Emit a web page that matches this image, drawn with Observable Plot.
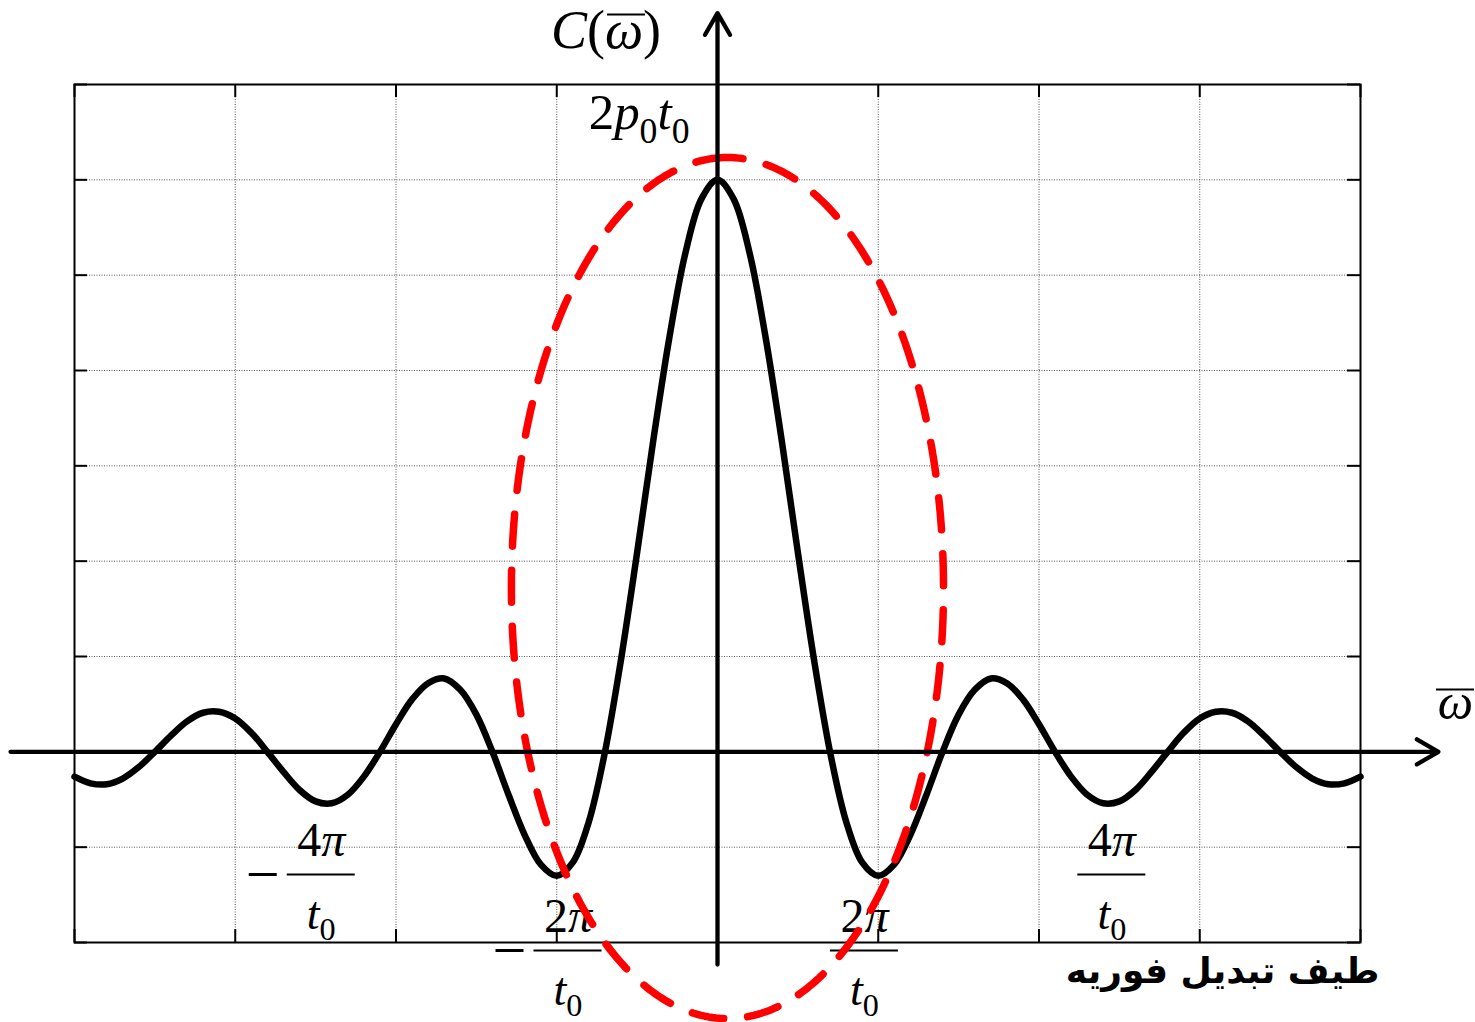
<!DOCTYPE html>
<html><head><meta charset="utf-8">
<script src="https://cdn.jsdelivr.net/npm/d3@7"></script>
<script src="https://cdn.jsdelivr.net/npm/@observablehq/plot@0.6"></script>
<style>html,body{margin:0;padding:0;background:#fff;overflow:hidden}</style>
</head><body><div id="chart"></div>
<script>
// ---- data ----
const omega = [-4.0,-3.9,-3.8,-3.7,-3.6,-3.5,-3.4,-3.3,-3.2,-3.1,-3.0,-2.9,-2.8,-2.7,-2.6,-2.5,-2.4,-2.3,-2.2,-2.1,
  -2.0,-1.9,-1.8,-1.7,-1.6,-1.5,-1.4,-1.3,-1.2,-1.1,-1.0,-0.9,-0.8,-0.7,-0.6,-0.5,-0.4,-0.3,-0.2,-0.1,
  0.0,0.1,0.2,0.3,0.4,0.5,0.6,0.7,0.8,0.9,1.0,1.1,1.2,1.3,1.4,1.5,1.6,1.7,1.8,1.9,
  2.0,2.1,2.2,2.3,2.4,2.5,2.6,2.7,2.8,2.9,3.0,3.1,3.2,3.3,3.4,3.5,3.6,3.7,3.8,3.9,4.0];
const C = [-0.26,-0.33,-0.34,-0.28,-0.16,0.00,0.17,0.32,0.41,0.42,0.35,0.20,0.00,-0.21,-0.40,-0.52,-0.54,-0.45,-0.26,0.00,
  0.29,0.55,0.72,0.77,0.65,0.39,0.00,-0.45,-0.87,-1.18,-1.30,-1.16,-0.73,0.00,0.97,2.09,3.26,4.34,5.23,5.80,
  6.00,5.80,5.23,4.34,3.26,2.09,0.97,0.00,-0.73,-1.16,-1.30,-1.18,-0.87,-0.45,0.00,0.39,0.65,0.77,0.72,0.55,
  0.29,0.00,-0.26,-0.45,-0.54,-0.52,-0.40,-0.21,0.00,0.20,0.35,0.42,0.41,0.32,0.17,0.00,-0.16,-0.28,-0.34,-0.33,-0.26];
const xGrid = [-4,-3,-2,-1,0,1,2,3,4];
const yGrid = [-2,-1,0,1,2,3,4,5,6,7];
const yAxisLabel = "{C}({ω})";
const peakLabel = "2{p}_0{t}_0";
const xAxisLabel = "{ω}";
const fracNum = ["4{π}", "2{π}", "2{π}", "4{π}"];
const fracDen = ["{t}_0", "{t}_0", "{t}_0", "{t}_0"];
const fracSign = [-1, -1, 1, 1];
const fracAt = [-2.465, -0.93, 0.914, 2.453];
const caption = "طیف تبدیل فوریه";

// ---- layout / styling ----
const serif = "Liberation Serif, Times New Roman, serif";
const curveData = omega.map((w, i) => ({w, c: C[i]}));
const fracData = fracNum.map((n, i) => ({
  num: n, den: fracDen[i], neg: fracSign[i] < 0, at: fracAt[i],
  bar: Math.abs(fracAt[i]) > 2 ? -1.287 : -2.084
}));
const ell = {cx: 0.062, cy: 1.718, rx: 1.344, ry: 4.516};
const ellipsePts = d3.range(0, 361, 1).map(a => {
  const t = (90 + a) * Math.PI / 180;
  return {x: ell.cx + ell.rx * Math.cos(t), y: ell.cy + ell.ry * Math.sin(t)};
});
const axesData = [
  {x1: -4.398, y1: 0, x2: 4.485, y2: 0},
  {x1: 0, y1: -2.231, x2: 0, y2: 7.748}
];
const overlines = [{x: -0.566, y: 7.734}, {x: 4.591, y: 0.654}];

const gridStyle = {stroke: "#555", strokeOpacity: 1, strokeWidth: 1, strokeDasharray: "1,1.5"};
const tickStyle = {stroke: "#000", strokeWidth: 2};
const richText = {fontFamily: serif, textAnchor: "middle", lineAnchor: "bottom", ariaLabel: () => "rich"};

const plot = Plot.plot({
  width: 1475, height: 1022,
  marginTop: 84, marginRight: 115, marginBottom: 80, marginLeft: 74,
  x: {domain: [-4, 4], axis: null},
  y: {domain: [-2, 7], axis: null},
  style: {background: "#fff", overflow: "visible"},
  marks: [
    Plot.ruleX(xGrid.slice(1, -1), {x: d => d, ...gridStyle}),
    Plot.ruleY(yGrid.slice(1, -1), {y: d => d, ...gridStyle}),
    Plot.frame({stroke: "#000", strokeWidth: 2}),
    Plot.ruleX(xGrid, {x: d => d, y1: 7, y2: 7, insetBottom: -13, ...tickStyle}),
    Plot.ruleX(xGrid, {x: d => d, y1: -2, y2: -2, insetTop: -13, ...tickStyle}),
    Plot.ruleY(yGrid, {y: d => d, x1: -4, x2: -4, insetRight: -13, ...tickStyle}),
    Plot.ruleY(yGrid, {y: d => d, x1: 4, x2: 4, insetLeft: -13, ...tickStyle}),
    Plot.line(curveData, {x: "w", y: "c", curve: "catmull-rom", stroke: "#000", strokeWidth: 6.5, strokeLinejoin: "round"}),
    // labels
    Plot.text([yAxisLabel], {x: -0.694, y: 7.388, text: d => d, fontSize: 54, ...richText}),
    Plot.text([peakLabel], {x: -0.488, y: 6.528, text: d => d, fontSize: 51, ...richText}),
    Plot.text([xAxisLabel], {x: 4.591, y: 0.349, text: d => d, fontSize: 50, ...richText}),
    Plot.ruleY(overlines, {y: "y", x1: "x", x2: "x", insetLeft: -19, insetRight: -19, stroke: "#000", strokeWidth: 2}),
    Plot.text(fracData, {x: "at", y: "bar", text: "num", dy: -19, fontSize: 48, ...richText}),
    Plot.text(fracData, {x: "at", y: "bar", text: "den", dy: 54, fontSize: 46, ...richText}),
    Plot.ruleY(fracData, {y: "bar", x1: "at", x2: "at", insetLeft: -34, insetRight: -34, stroke: "#000", strokeWidth: 2}),
    Plot.ruleY(fracData.filter(d => d.neg), {y: "bar", x1: "at", x2: "at", dx: -58, insetLeft: -14, insetRight: -14, stroke: "#000", strokeWidth: 3}),
    Plot.text([caption], {x: 3.142, y: -2.43, text: d => d, fontSize: 36, fontWeight: "bold", fontFamily: "DejaVu Sans", textAnchor: "middle", lineAnchor: "bottom"}),
    // ellipse
    Plot.line(ellipsePts, {x: "x", y: "y", curve: "linear", stroke: "#ff0000", strokeWidth: 7.5, strokeDasharray: "32,24"}),
    // axes
    Plot.arrow(axesData, {x1: "x1", y1: "y1", x2: "x2", y2: "y2", stroke: "#000", strokeWidth: 4.3, headLength: 8.7, headAngle: 60})
  ]
});

function richify(root) {
  const NS = "http://www.w3.org/2000/svg";
  const texts = new Set();
  root.querySelectorAll('[aria-label="rich"]').forEach(el => {
    if (el.tagName.toLowerCase() === "text") texts.add(el);
    else el.querySelectorAll("text").forEach(t => texts.add(t));
  });
  root.querySelectorAll("text").forEach(t => { if (/[{_]/.test(t.textContent)) texts.add(t); });
  texts.forEach(t => {
    const host = t.closest("[font-size]");
    const fs = host ? parseFloat(host.getAttribute("font-size")) : 40;
    const subSize = fs * 0.7, subShift = fs * 0.26;
    const src = t.textContent;
    t.textContent = "";
    let shift = 0, i = 0;
    const add = (s, it, sub) => {
      const ts = document.createElementNS(NS, "tspan");
      ts.textContent = s;
      if (it) ts.setAttribute("font-style", "italic");
      const target = sub ? subShift : 0;
      if (target !== shift) { ts.setAttribute("dy", target - shift); shift = target; }
      if (sub) ts.setAttribute("font-size", subSize);
      t.appendChild(ts);
    };
    while (i < src.length) {
      const ch = src[i];
      if (ch === "{") { const j = src.indexOf("}", i); add(src.slice(i + 1, j), true, false); i = j + 1; }
      else if (ch === "_") { add(src[i + 1], false, true); i += 2; }
      else { add(ch, false, false); i++; }
    }
  });
}
richify(plot);
document.getElementById("chart").appendChild(plot);
</script>
</body></html>
